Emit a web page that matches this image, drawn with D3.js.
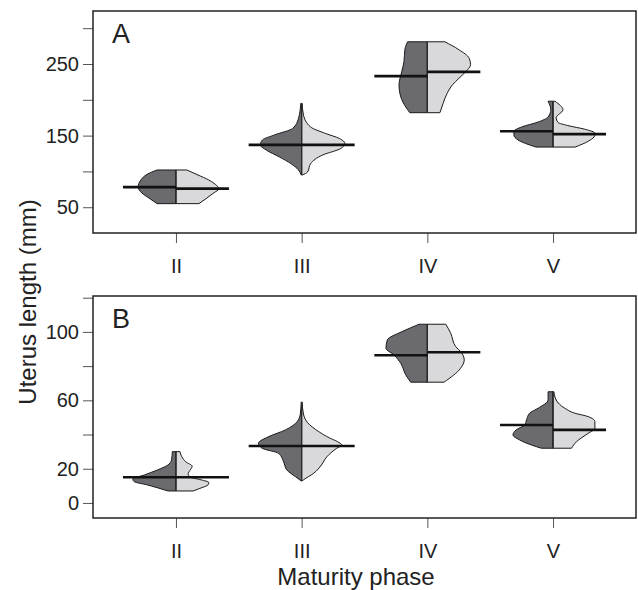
<!DOCTYPE html>
<html><head><meta charset="utf-8">
<script src="https://cdn.jsdelivr.net/npm/d3@7"></script>
<style>body{margin:0;background:#fff}svg{display:block}text{font-family:"Liberation Sans",Arial,Helvetica,sans-serif;fill:#222}</style>
</head><body><svg id="c" width="638" height="590"></svg>
<script>
// ---------- DATA ----------
const categories = ["II", "III", "IV", "V"];
// density profiles: [uterus length, relative density] for left (dark) and right (light) halves
const aLeft = [
  [[102,.42],[96,.64],[88,.78],[78,.84],[70,.76],[62,.58],[55,.42]],
  [[195,.02],[174,.07],[160,.2],[151,.6],[144,.87],[137,.92],[130,.79],[120,.49],[111,.24],[102,.07],[95,.01]],
  [[281,.44],[270,.5],[253,.52],[239,.57],[221,.63],[204,.59],[190,.48],[182,.39]],
  [[198,.11],[186,.05],[176,.11],[169,.33],[162,.7],[156,.87],[151,.87],[144,.78],[134,.38]]
];
const aRight = [
  [[102,.24],[95,.49],[88,.73],[80,.91],[76,.96],[70,.84],[62,.67],[55,.51]],
  [[195,.01],[179,.04],[162,.2],[153,.53],[146,.84],[139,.96],[132,.87],[123,.47],[111,.2],[99,.13],[95,.01]],
  [[281,.39],[270,.7],[258,.93],[249,.96],[239,.85],[230,.7],[221,.56],[209,.44],[195,.35],[182,.28]],
  [[198,.04],[186,.22],[175,.07],[168.5,.11],[164,.33],[159,.7],[153,.94],[148,.91],[142,.78],[134,.49]]
];
const bLeft = [
  [[30,.08],[25,.1],[22,.19],[19.3,.41],[16.4,.7],[13.9,.96],[12.5,.93],[10.5,.63],[7,.18]],
  [[59,.01],[52,.03],[47.5,.1],[42.7,.36],[38.8,.73],[34.9,.96],[32,.88],[29,.51],[24,.4],[19.3,.33],[15.4,.14],[12.9,.01]],
  [[104.5,.18],[100.2,.56],[95.3,.89],[90.5,.92],[86.5,.74],[81.6,.59],[74.9,.48],[70.6,.37]],
  [[65,.11],[60.2,.11],[55.4,.33],[52.5,.52],[48.5,.59],[45.6,.63],[42.7,.82],[39.8,.89],[36.8,.74],[32.9,.37],[32,.26]]
];
const bRight = [
  [[30,.09],[27,.13],[24,.22],[21.5,.36],[19,.31],[17,.27],[15,.33],[13.5,.56],[12,.73],[10.5,.71],[8.5,.53],[7,.38]],
  [[59,.01],[52,.04],[47,.13],[41.7,.38],[38,.62],[35.8,.8],[33.9,.89],[32,.78],[27,.56],[22.2,.44],[17.4,.27],[13.5,.04],[12.9,.01]],
  [[104.5,.41],[99.2,.52],[91.4,.63],[88.5,.74],[83.6,.82],[78.8,.74],[70.6,.37]],
  [[65,.02],[60.2,.07],[55.4,.26],[52.5,.48],[50.5,.78],[47.5,.93],[43.6,.93],[40.7,.78],[35.8,.52],[32,.41]]
];
const aMedLeft = [78, 137, 233, 156];
const aMedRight = [76, 137, 239, 152];
const bMedLeft = [15, 33.3, 86.4, 45.6];
const bMedRight = [15, 33.3, 88.1, 42.7];
const aTicks = [50, 100, 150, 200, 250, 300];
const aTickLabels = [50, 150, 250];
const bTicks = [0, 20, 40, 60, 80, 100, 120];
const bTickLabels = [0, 20, 60, 100];

// ---------- DRAW ----------
const svg = d3.select("#c");
const L = 93, R = 636;
const x = d3.scalePoint().domain(categories).range([L, R]).padding(0.66);
const w = d3.scaleLinear().domain([0, 1]).range([0, 45]);
const medHalf = 53;
const FONT = '"Liberation Sans",Arial,sans-serif';

const panels = [
  {y: d3.scaleLinear().domain([14, 324]).range([233, 11]), left: aLeft, right: aRight,
   mL: aMedLeft, mR: aMedRight, ticks: aTicks, labels: aTickLabels, tag: "A"},
  {y: d3.scaleLinear().domain([-8.8, 121]).range([518, 296]), left: bLeft, right: bRight,
   mL: bMedLeft, mR: bMedRight, ticks: bTicks, labels: bTickLabels, tag: "B"}
];

panels.forEach(p => {
  const [bot, top] = p.y.range();
  const g = svg.append("g");
  const ya = g.append("g").attr("transform", `translate(${L},0)`)
    .call(d3.axisLeft(p.y).tickValues(p.ticks).tickSize(10).tickPadding(4)
      .tickFormat(d => p.labels.includes(d) ? d : ""));
  ya.select(".domain").remove();
  ya.selectAll("line").attr("stroke", "#555");
  ya.selectAll("text").attr("font-size", 20).attr("fill", "#222").attr("font-family", FONT);
  const xa = g.append("g").attr("transform", `translate(0,${bot})`)
    .call(d3.axisBottom(x).tickSize(10).tickPadding(16));
  xa.select(".domain").remove();
  xa.selectAll("line").attr("stroke", "#555");
  xa.selectAll("text").attr("font-size", 20).attr("fill", "#222").attr("font-family", FONT);

  categories.forEach((c, i) => {
    const cx = x(c);
    const areaL = d3.area().curve(d3.curveMonotoneY).y(d => p.y(d[0])).x0(cx).x1(d => cx - w(d[1]));
    const areaR = d3.area().curve(d3.curveMonotoneY).y(d => p.y(d[0])).x0(cx).x1(d => cx + w(d[1]));
    g.append("path").attr("d", areaL(p.left[i])).attr("fill", "#6b6a6f").attr("stroke", "#1a1a1a").attr("stroke-width", 1);
    g.append("path").attr("d", areaR(p.right[i])).attr("fill", "#d9d9db").attr("stroke", "#1a1a1a").attr("stroke-width", 1);
    const ext = d3.extent(p.left[i].concat(p.right[i]), d => d[0]);
    g.append("line").attr("x1", cx).attr("x2", cx).attr("y1", p.y(ext[0])).attr("y2", p.y(ext[1]))
      .attr("stroke", "#2a2a2a").attr("stroke-width", 1.3);
    g.append("line").attr("x1", cx - medHalf).attr("x2", cx).attr("y1", p.y(p.mL[i])).attr("y2", p.y(p.mL[i]))
      .attr("stroke", "#111").attr("stroke-width", 2.6);
    g.append("line").attr("x1", cx).attr("x2", cx + medHalf).attr("y1", p.y(p.mR[i])).attr("y2", p.y(p.mR[i]))
      .attr("stroke", "#111").attr("stroke-width", 2.6);
  });

  g.append("rect").attr("x", L).attr("y", top).attr("width", R - L).attr("height", bot - top)
    .attr("fill", "none").attr("stroke", "#222").attr("stroke-width", 1.5);
  g.append("text").attr("x", L + 19).attr("y", top + 32).attr("font-size", 27).text(p.tag);
});

svg.append("text").attr("x", 356).attr("y", 585).attr("text-anchor", "middle").attr("font-size", 24).text("Maturity phase");
svg.append("text").attr("transform", "translate(36,302) rotate(-90)").attr("text-anchor", "middle")
  .attr("font-size", 24).text("Uterus length (mm)");
</script></body></html>
